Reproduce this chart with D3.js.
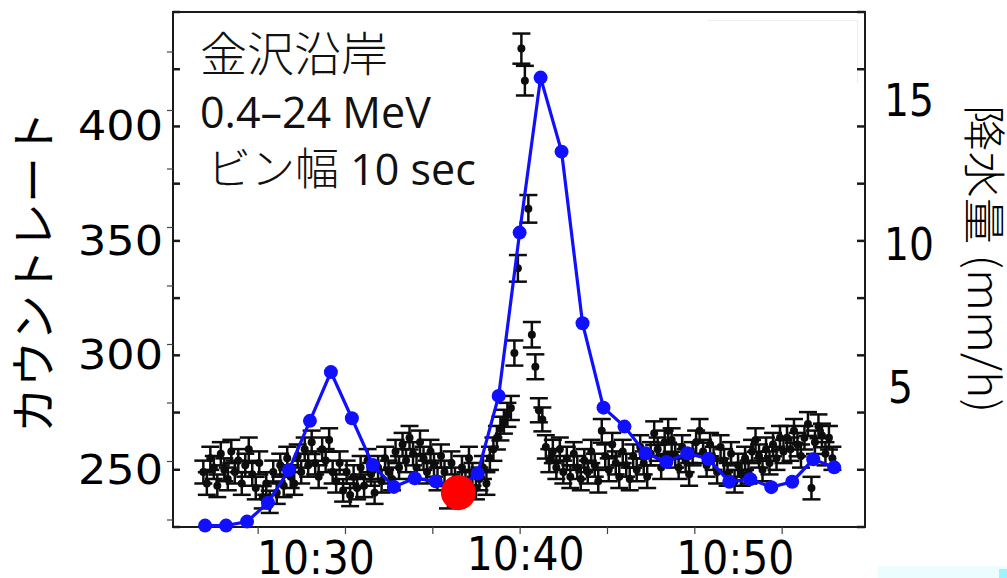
<!DOCTYPE html>
<html>
<head>
<meta charset="utf-8">
<script src="https://cdn.jsdelivr.net/npm/d3@7"></script>
<style>
  html, body { margin: 0; padding: 0; background: #fff; }
  svg { display: block; }
</style>
</head>
<body>
<svg id="chart" width="1007" height="578"></svg>
<script>
// カウントレート (10 sec ビン) — 10:24:55 から
const countStart = 24 + 55 / 60;   // 10:00 からの分
const countStep = 1 / 6;
const countRate = [
  249, 244, 255, 251, 243, 257, 250, 246, 258, 249, 254, 244, 252, 259, 248, 242, 253,
  238, 244, 236, 249, 240, 252, 243, 255, 247, 244, 256, 249, 259, 252, 262, 253, 247,
  259, 254, 263, 249, 245, 253, 241, 249, 239, 247, 242, 251, 243, 254, 248, 240, 251,
  245, 255, 249, 246, 258, 251, 261, 254, 264, 257, 251, 262, 255, 249, 258, 252, 246,
  256, 249, 238, 253, 246, 241, 251, 244, 255, 248, 242, 246, 251, 244, 255, 259, 264,
  268, 271, 274, 277, 301, 338, 434, 420, 364, 309, 295, 276, 272, 260, 254, 258, 251,
  259, 249, 255, 247, 257, 251, 246, 254, 249, 258, 252, 245, 267, 256, 250, 261, 253,
  247, 258, 252, 246, 256, 250, 260, 253, 247, 257, 266, 259, 251, 262, 267, 263, 256,
  251, 260, 254, 248, 257, 262, 267, 258, 252, 261, 255, 249, 260, 254, 248, 257, 245,
  252, 248, 255, 249, 258, 263, 256, 250, 259, 253, 261, 255, 264, 258, 264, 259, 267,
  261, 256, 264, 270, 242, 262, 269, 265, 257, 264, 255
];

// 降水量 (mm/h) — 10:25 から 1 分毎
const rainStart = 25;
const rainRate = [
  0.17, 0.17, 0.31, 0.97, 2.11, 3.82, 5.52, 3.91, 2.28, 1.52, 1.82, 1.71, 1.45, 1.99,
  4.69, 10.38, 15.78, 13.2, 7.22, 4.28, 3.62, 2.69, 2.39, 2.69, 2.49, 1.70, 1.79, 1.51,
  1.70, 2.48, 2.20
];

// 赤丸の時刻 (分) とカウント
const eventMinute = 37.08;
const eventCount = 240;

const countTicks = d3.range(225, 451, 25);
const countLabels = [250, 300, 350, 400];
const rainLabels = [5, 10, 15];
const timeLabels = [30, 40, 50];
const annotation = ['金沢沿岸', '0.4–24 MeV', 'ビン幅', ' 10 sec'];

const frame = { left: 173, right: 865, top: 12, bottom: 527 };

const svg = d3.select('#chart');

const x = d3.scaleLinear().domain([23.47, 56.47]).range([frame.left, frame.right]);
const yCount = d3.scaleLinear().domain([225, 450]).range([frame.bottom, frame.top]);
const yRain = d3.scaleLinear().domain([0, 15]).range([530.5, 100]);
// 重ね合わせた元の図の目盛り (左外側と下側)
const yGhost = d3.scaleLinear().domain([0, 16]).range([520, 52]);
const xGhostTicks = d3.range(7).map(k => 27.53 + k * 4.165);

const counts = countRate.map((v, i) => ({ t: countStart + i * countStep, v, e: Math.sqrt(v / 10) }));
const rain = rainRate.map((v, i) => ({ t: rainStart + i, v }));

// 背景の薄い飾り
svg.append('path')
  .attr('d', 'M707,20.5H857.5V83')
  .style('fill', 'none')
  .style('stroke', '#ededed')
  .style('stroke-width', 1);
svg.append('rect')
  .attr('x', 878).attr('y', 566).attr('width', 129).attr('height', 12)
  .style('fill', '#ecfdff');
svg.append('rect')
  .attr('x', 999).attr('y', 569).attr('width', 8).attr('height', 9)
  .style('fill', '#9ef3ff');

// 枠
svg.append('rect')
  .attr('x', frame.left).attr('y', frame.top)
  .attr('width', frame.right - frame.left).attr('height', frame.bottom - frame.top)
  .style('fill', 'none')
  .style('stroke', '#1a1a1a')
  .style('stroke-width', 2);

// 目盛り
const ticks = svg.append('g').style('stroke', '#1a1a1a');
ticks.selectAll('line.in-left')
  .data(countTicks)
  .enter().append('line')
  .attr('x1', frame.left).attr('x2', frame.left + 7)
  .attr('y1', d => yCount(d)).attr('y2', d => yCount(d))
  .style('stroke-width', 2.5);
ticks.selectAll('line.in-right')
  .data(countTicks)
  .enter().append('line')
  .attr('x1', frame.right - 8).attr('x2', frame.right)
  .attr('y1', d => yCount(d)).attr('y2', d => yCount(d))
  .style('stroke-width', 2.5);
ticks.selectAll('line.out-left')
  .data(yGhost.ticks(8))
  .enter().append('line')
  .attr('x1', frame.left - 6).attr('x2', frame.left)
  .attr('y1', d => yGhost(d)).attr('y2', d => yGhost(d))
  .style('stroke', '#444')
  .style('stroke-width', 1.2);
ticks.selectAll('line.out-bottom')
  .data(xGhostTicks)
  .enter().append('line')
  .attr('x1', d => x(d)).attr('x2', d => x(d))
  .attr('y1', frame.bottom).attr('y2', frame.bottom + 7)
  .style('stroke', '#444')
  .style('stroke-width', 1.2);

// 目盛りラベル
svg.selectAll('text.count-label')
  .data(countLabels)
  .enter().append('text')
  .attr('x', 163)
  .attr('y', d => yCount(d) + 14)
  .attr('text-anchor', 'end')
  .attr('textLength', 85)
  .attr('lengthAdjust', 'spacingAndGlyphs')
  .style('font-family', 'DejaVu Sans')
  .style('font-size', '41px')
  .text(d => d);

svg.selectAll('text.rain-label')
  .data(rainLabels)
  .enter().append('text')
  .attr('x', d => d < 10 ? 888 : 884)
  .attr('y', d => yRain(d) + 16)
  .attr('textLength', d => String(d).length * 25)
  .attr('lengthAdjust', 'spacingAndGlyphs')
  .style('font-family', 'DejaVu Sans')
  .style('font-size', '45px')
  .text(d => d);

svg.selectAll('text.time-label')
  .data(timeLabels)
  .enter().append('text')
  .attr('x', d => x(d) + 6)
  .attr('y', d => d === 40 ? 570 : 574)
  .attr('text-anchor', 'middle')
  .attr('textLength', 118)
  .attr('lengthAdjust', 'spacingAndGlyphs')
  .style('font-family', 'DejaVu Sans')
  .style('font-size', '47px')
  .text(d => `10:${d}`);

// 軸タイトル
svg.append('text')
  .attr('transform', 'translate(50,272) rotate(-90)')
  .attr('text-anchor', 'middle')
  .style('font-family', 'Noto Sans CJK JP')
  .style('font-size', '46px')
  .text('カウントレート');

svg.append('text')
  .attr('transform', 'translate(968,259) rotate(90)')
  .attr('text-anchor', 'middle')
  .attr('textLength', 308)
  .attr('lengthAdjust', 'spacingAndGlyphs')
  .style('font-family', 'Noto Sans CJK JP')
  .style('font-size', '43px')
  .style('font-weight', 300)
  .text('降水量 (mm/h)');

// 注記
const note = svg.append('g').style('fill', '#111');
note.append('text')
  .attr('x', 200).attr('y', 71)
  .style('font-family', 'Noto Sans CJK JP')
  .style('font-size', '47px')
  .style('font-weight', 300)
  .text(annotation[0]);
note.append('text')
  .attr('x', 200).attr('y', 128)
  .style('font-family', 'Open Sans')
  .style('font-size', '43px')
  .text(annotation[1]);
const bin = note.append('text')
  .attr('x', 207).attr('y', 185);
bin.append('tspan')
  .style('font-family', 'Noto Sans CJK JP')
  .style('font-size', '44px')
  .style('font-weight', 300)
  .text(annotation[2]);
bin.append('tspan')
  .style('font-family', 'Open Sans')
  .style('font-size', '43px')
  .text(annotation[3]);

// カウントのエラーバー
const plot = svg.append('g');
const bars = plot.selectAll('g.err')
  .data(counts)
  .enter().append('g')
  .classed('err', true)
  .attr('transform', d => `translate(${x(d.t)},0)`)
  .style('stroke', '#0d0d0d')
  .style('stroke-width', 2.5);
bars.append('line')
  .attr('y1', d => yCount(d.v - d.e)).attr('y2', d => yCount(d.v + d.e));
bars.append('line')
  .attr('x1', -9).attr('x2', 9)
  .attr('y1', d => yCount(d.v + d.e)).attr('y2', d => yCount(d.v + d.e));
bars.append('line')
  .attr('x1', -9).attr('x2', 9)
  .attr('y1', d => yCount(d.v - d.e)).attr('y2', d => yCount(d.v - d.e));
plot.selectAll('circle.count')
  .data(counts)
  .enter().append('circle')
  .classed('count', true)
  .attr('cx', d => x(d.t))
  .attr('cy', d => yCount(d.v))
  .attr('r', 4)
  .style('fill', '#0d0d0d');

// 降水量
plot.append('path')
  .datum(rain)
  .attr('d', d3.line().x(d => x(d.t)).y(d => yRain(d.v)))
  .style('fill', 'none')
  .style('stroke', '#1010ff')
  .style('stroke-width', 3.2);
plot.selectAll('circle.rain')
  .data(rain)
  .enter().append('circle')
  .classed('rain', true)
  .attr('cx', d => x(d.t))
  .attr('cy', d => yRain(d.v))
  .attr('r', 7)
  .style('fill', '#1010ff');

// 赤丸
plot.append('circle')
  .attr('cx', x(eventMinute))
  .attr('cy', yCount(eventCount))
  .attr('r', 17.5)
  .style('fill', '#ff0000');
</script>
</body>
</html>
